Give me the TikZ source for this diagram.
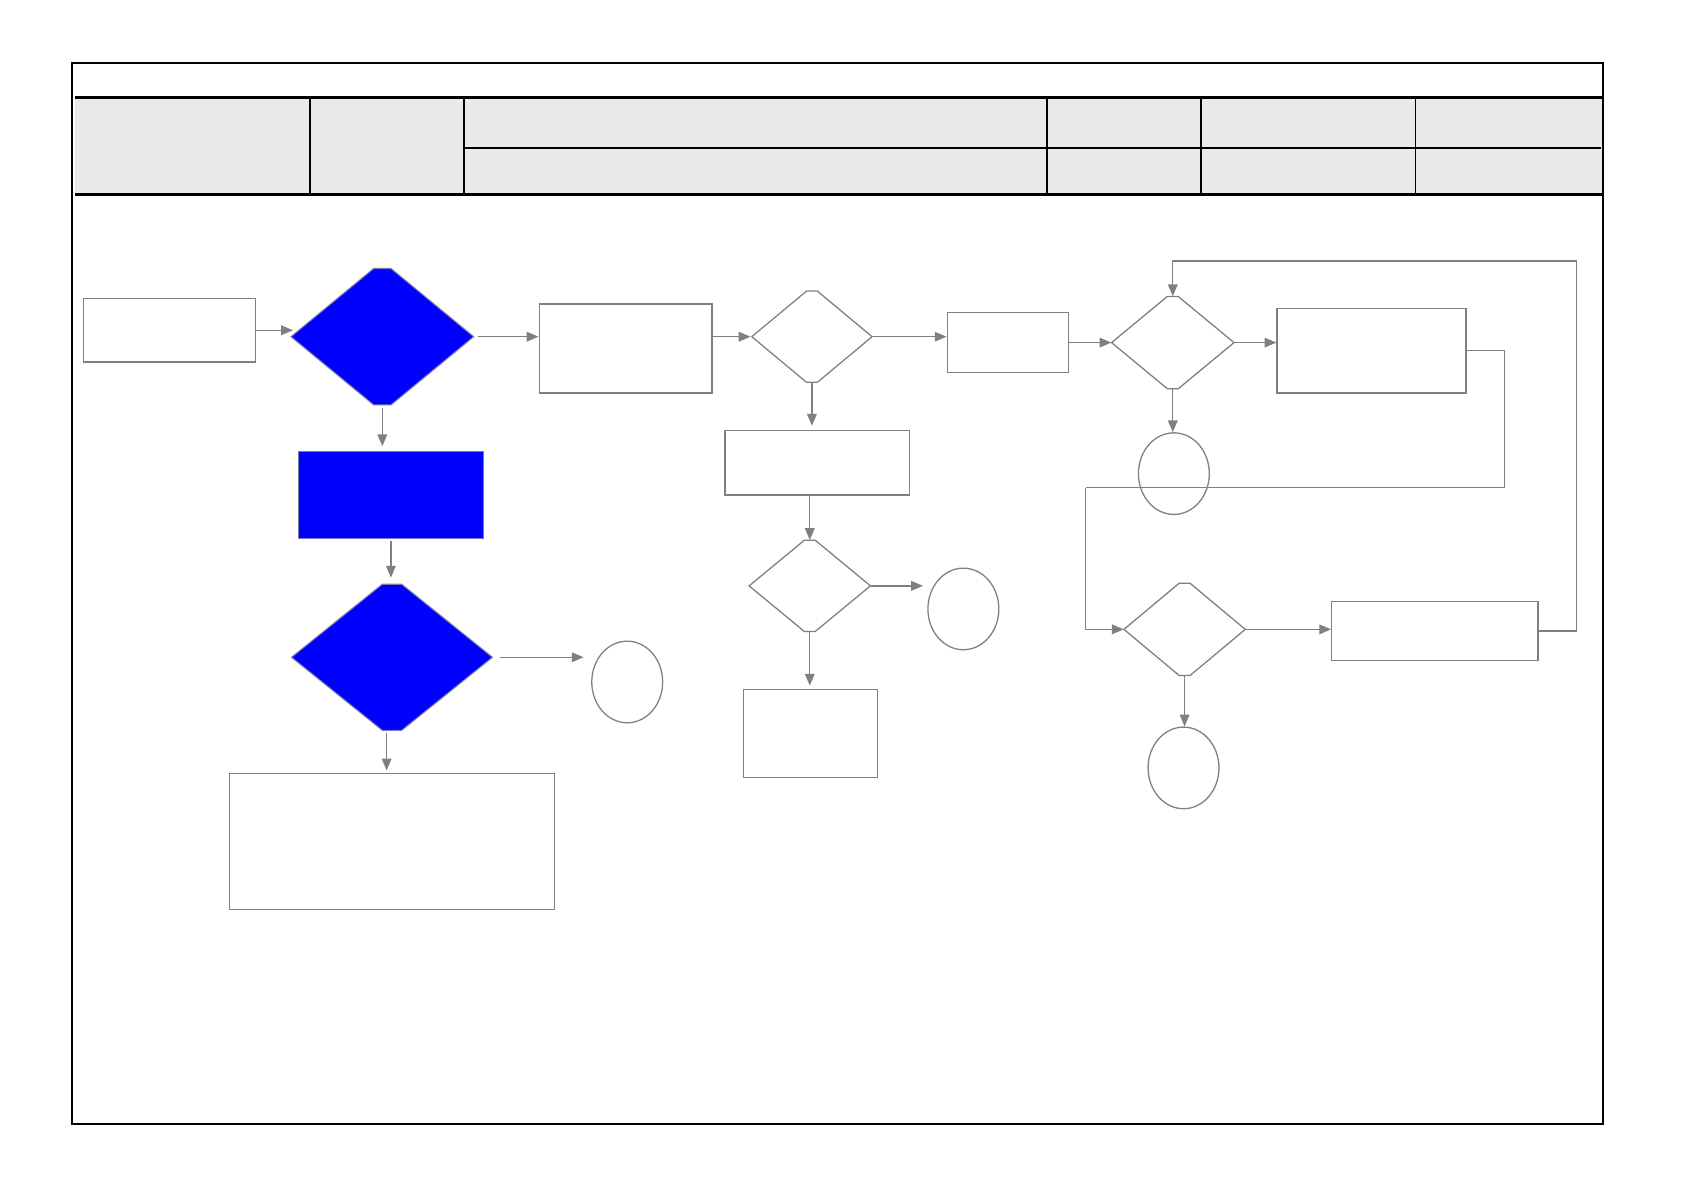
\documentclass[tikz,border=0pt]{standalone}
\usetikzlibrary{shapes.geometric,arrows.meta}
\definecolor{lgray}{HTML}{808080}
\definecolor{hdr}{HTML}{E9E9E9}
\definecolor{pblue}{HTML}{0000FF}
\definecolor{bedge}{HTML}{7A7AB0}
\tikzset{
  box/.style={draw=lgray, line width=1.2pt, fill=white, inner sep=0pt, rectangle},
  bluebox/.style={draw=bedge, line width=1pt, fill=pblue, inner sep=0pt, rectangle},
  term/.style={draw=lgray, line width=1.2pt, fill=white, inner sep=0pt, ellipse, minimum width=66pt, minimum height=76pt},
  dwhite/.style={draw=lgray, line width=1.2pt, fill=white, line join=miter},
  dblue/.style={draw=bedge, line width=1pt, fill=pblue, line join=miter},
  arr/.style={draw=lgray, line width=1.2pt, -{Triangle[length=11pt,width=9pt]}},
  wire/.style={draw=lgray, line width=1.2pt},
  frame/.style={draw=black, line width=1.9pt},
  hline/.style={draw=black, line width=2.8pt},
  vline/.style={draw=black, line width=1.8pt}
}
\newcommand\hexdia[7]{%
  \node[diamond, inner sep=0pt, minimum width=#4pt, minimum height=#5pt, draw=none] (#1) at (#2,#3) {};
  \draw[#7] ({#2-#4/2},#3) -- ({#2-#6},{#3-#5/2}) -- ({#2+#6},{#3-#5/2}) -- ({#2+#4/2},#3)
     -- ({#2+#6},{#3+#5/2}) -- ({#2-#6},{#3+#5/2}) -- cycle;
}
\begin{document}
\begin{tikzpicture}[x=1pt,y=-1pt]
\useasboundingbox[fill=white] (0,0) rectangle (1568,1108);
% header
\fill[hdr] (70,91) rectangle (1493,181);
\draw[frame] (67,59) rectangle (1493,1047);
\draw[hline] (70,91) -- (1493,91);
\draw[hline] (70,181) -- (1493,181);
\draw[vline] (432,138) -- (1491,138);
\foreach \xx in {289,432,975,1118,1318} \draw[vline] (\xx,91) -- (\xx,181);

% rectangles
\node[box, minimum width=160pt, minimum height=59pt] (A) at (158,307.5) {};
\node[box, minimum width=161pt, minimum height=83pt] (B) at (582.5,324.5) {};
\node[box, minimum width=113pt, minimum height=56pt] (C) at (938.5,319) {};
\node[box, minimum width=176pt, minimum height=79pt] (E) at (1277,326.5) {};
\node[box, minimum width=192pt, minimum height=55pt] (F) at (1336,587.5) {};
\node[box, minimum width=172pt, minimum height=60pt] (G) at (761,431) {};
\node[box, minimum width=125pt, minimum height=82pt] (H) at (754.5,683) {};
\node[bluebox, minimum width=172pt, minimum height=81pt] (I) at (364,460.5) {};
\node[box, minimum width=302pt, minimum height=127pt] (J) at (365,783.5) {};

% terminators
\node[term] (O1) at (584,635) {};
\node[term] (O2) at (897,567) {};
\node[term] (O3) at (1093,441) {};
\node[term] (O4) at (1102,715) {};

% decisions
\hexdia{D1}{356}{313.5}{170}{127}{8}{dblue}
\hexdia{D2}{756}{313.5}{112}{85}{5}{dwhite}
\hexdia{D3}{1092}{319}{114}{86}{5}{dwhite}
\hexdia{D4}{1103}{586}{113}{86}{5}{dwhite}
\hexdia{D5}{754}{545.5}{113}{85}{5}{dwhite}
\hexdia{D6}{365}{612}{187}{136}{9}{dblue}

% bend points
\coordinate (k1) at (1401,454);
\coordinate (k2) at (1011,454);
\coordinate (k3) at (1468,243);

% connectors
\draw[arr] (A.east) -- ([xshift=2pt]A.east -| D1.west);
\draw[arr] ([xshift=4pt]D1.east) -- (D1.east -| B.west);
\draw[arr] (B.east |- D2.west) -- ([xshift=-1pt]D2.west);
\draw[arr] (D2.east) -- (D2.east -| C.west);
\draw[arr] (C.east) -- (C.east -| D3.west);
\draw[arr] (D3.east) -- (D3.east -| E.west);
\draw[arr] (D3.south) -- (D3.south |- O3.north);
\draw[wire] (E.east) -| (k1) -- (k2);
\draw[arr] (k2) |- (D4.west);
\draw[arr] (F.east) -| (k3) -| (D3.north);
\draw[arr] (D4.east) -- (D4.east -| F.west);
\draw[arr] (D4.south) -- (D4.south |- O4.north);
\draw[arr, shorten >=4pt] (D2.south) -- (D2.south |- G.north);
\draw[arr] (D5.north |- G.south) -- (D5.north);
\draw[arr, shorten >=4pt] (D5.east) -- (D5.east -| O2.west);
\draw[arr, shorten >=3pt] (D5.south) -- (D5.south |- H.north);
\draw[arr, shorten <=3pt, shorten >=4pt] (D1.south) -- (D1.south |- I.north);
\draw[arr, shorten <=2pt, shorten >=6pt] (I.south) -- (I.south |- D6.north);
\draw[arr, shorten >=7pt] ([xshift=7pt]D6.east) -- (D6.east -| O1.west);
\draw[arr, shorten <=2pt, shorten >=2pt] ([xshift=-5pt]D6.south) -- ([xshift=-5pt]D6.south |- J.north);
\end{tikzpicture}
\end{document}
